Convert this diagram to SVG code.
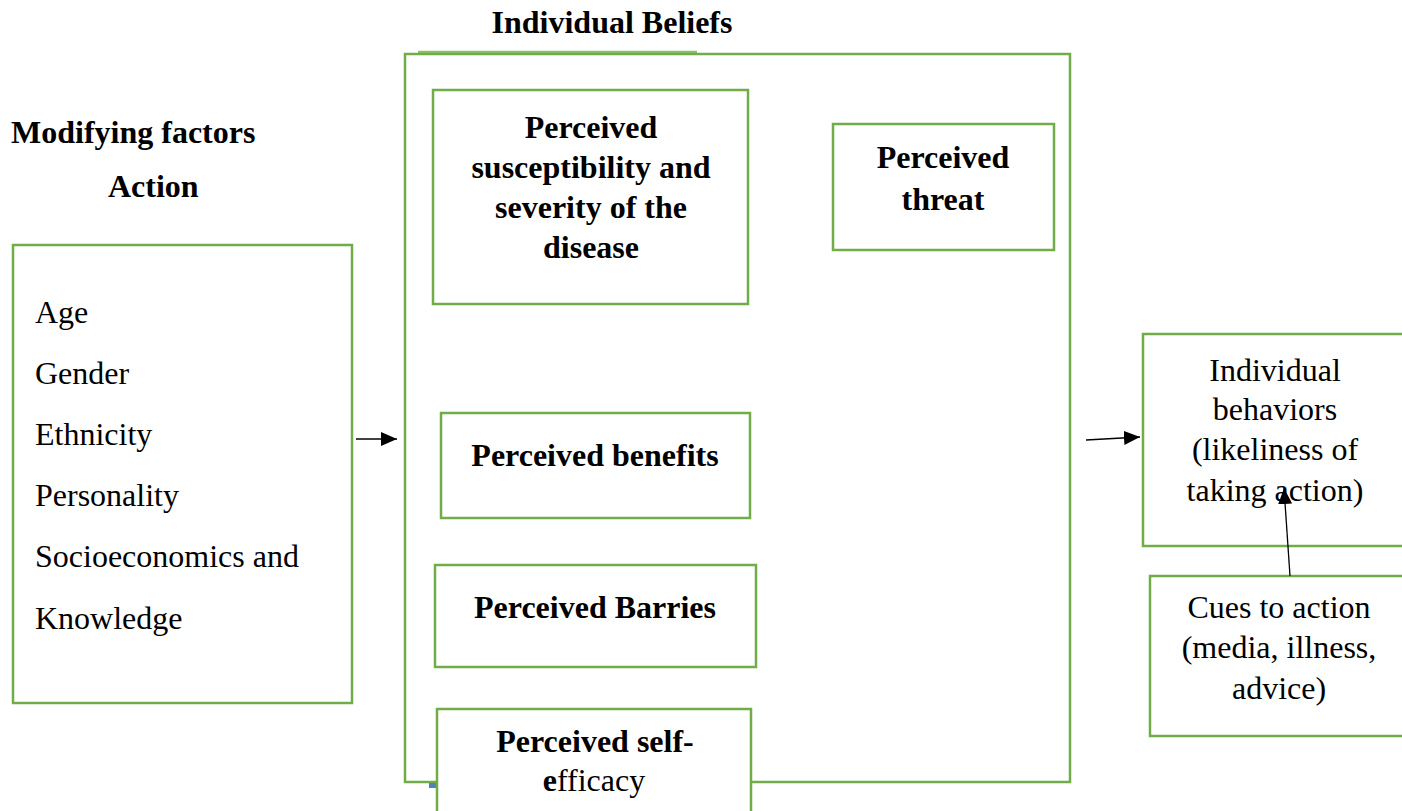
<svg xmlns="http://www.w3.org/2000/svg" width="1402" height="811" viewBox="0 0 1402 811">
<style>
.box{fill:#fff;stroke:#70AD47;stroke-width:2.5}
.t{font-family:"Liberation Serif","Times New Roman",serif;font-size:32px;fill:#000}
.b{font-weight:bold}
.c{text-anchor:middle}
.ln{stroke:#000;stroke-width:1.3;fill:none}
</style>
<defs>
<marker id="ah" viewBox="0 0 16 14" refX="16" refY="7" markerWidth="16" markerHeight="14" markerUnits="userSpaceOnUse" orient="auto">
<path d="M0,0 L16,7 L0,14 z" fill="#000"/>
</marker>
</defs>
<rect width="1402" height="811" fill="#fff"/>
<text class="t b c" x="612" y="33">Individual Beliefs</text>
<text class="t b" x="11" y="143">Modifying factors</text>
<text class="t b" x="108" y="197">Action</text>

<g id="beliefs">
<line x1="418" y1="52" x2="697" y2="52" stroke="#8CC06B" stroke-width="2.5"/>
<rect class="box" x="405" y="54" width="665" height="728"/>
<rect x="429" y="783" width="8" height="5" fill="#4F81BD"/>
</g>

<g id="modifying">
<rect class="box" x="13" y="245" width="339" height="458"/>
<text class="t" x="35" y="323">Age</text>
<text class="t" x="35" y="384">Gender</text>
<text class="t" x="35" y="445">Ethnicity</text>
<text class="t" x="35" y="506">Personality</text>
<text class="t" x="35" y="567">Socioeconomics and</text>
<text class="t" x="35" y="629">Knowledge</text>
</g>

<g id="susceptibility">
<rect class="box" x="433" y="90" width="315" height="214"/>
<text class="t b c" x="591" y="138">Perceived</text>
<text class="t b c" x="591" y="178">susceptibility and</text>
<text class="t b c" x="591" y="218">severity of the</text>
<text class="t b c" x="591" y="258">disease</text>
</g>

<g id="threat">
<rect class="box" x="833" y="124" width="221" height="126"/>
<text class="t b c" x="943" y="168">Perceived</text>
<text class="t b c" x="943" y="210">threat</text>
</g>

<g id="benefits">
<rect class="box" x="441" y="413" width="309" height="105"/>
<text class="t b c" x="595" y="466">Perceived benefits</text>
</g>

<g id="barriers">
<rect class="box" x="435" y="565" width="321" height="102"/>
<text class="t b c" x="595" y="618">Perceived Barries</text>
</g>

<g id="selfefficacy">
<rect class="box" x="437" y="709" width="314" height="110"/>
<text class="t b c" x="595" y="752">Perceived self-</text>
<text class="t c" x="594" y="791"><tspan class="b">e</tspan>fficacy</text>
</g>

<g id="behaviors">
<rect class="box" x="1143" y="334" width="270" height="212"/>
<text class="t c" x="1275" y="381">Individual</text>
<text class="t c" x="1275" y="420">behaviors</text>
<text class="t c" x="1275" y="460">(likeliness of</text>
<text class="t c" x="1275" y="501">taking action)</text>
</g>

<g id="cues">
<rect class="box" x="1150" y="576" width="263" height="160"/>
<text class="t c" x="1279" y="618">Cues to action</text>
<text class="t c" x="1279" y="658">(media, illness,</text>
<text class="t c" x="1279" y="699">advice)</text>
</g>

<g id="connectors">
<line class="ln" x1="356" y1="439" x2="397" y2="439" marker-end="url(#ah)"/>
<line class="ln" x1="1086" y1="440" x2="1140" y2="437" marker-end="url(#ah)"/>
<line class="ln" x1="1290" y1="576" x2="1284" y2="488" marker-end="url(#ah)"/>
</g>
</svg>
